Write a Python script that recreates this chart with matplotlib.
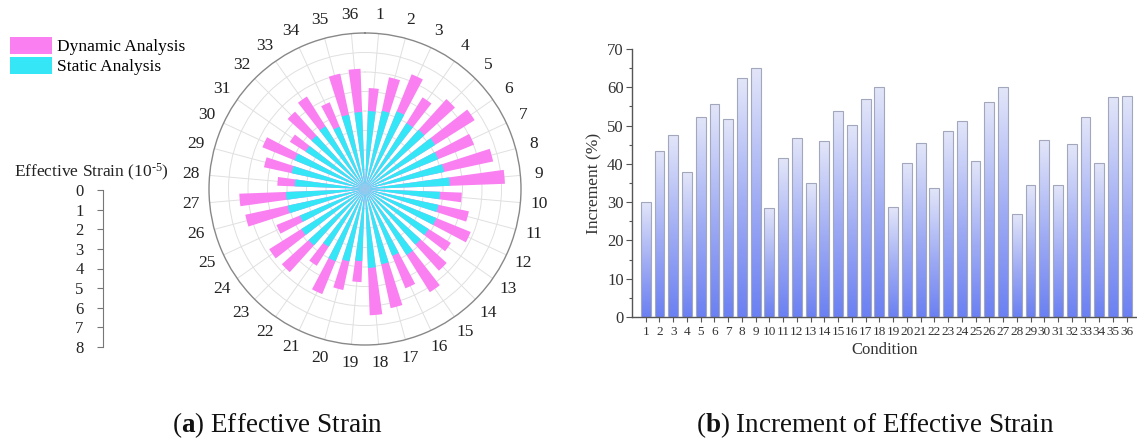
import numpy as np
import matplotlib.pyplot as plt
from matplotlib.colors import LinearSegmentedColormap
from matplotlib.patches import Patch

plt.rcParams['font.family'] = ['Liberation Serif', 'DejaVu Serif']
plt.rcParams['mathtext.fontset'] = 'custom'
plt.rcParams['mathtext.rm'] = 'Liberation Serif'
plt.rcParams['mathtext.bf'] = 'Liberation Serif:bold'
plt.rcParams['mathtext.default'] = 'regular'

# conditions 1..36
conditions = list(range(1, 37))

# effective strain (10^-5)
static_strain = [4.0, 4.1, 4.3, 4.0, 4.1, 4.25, 4.05, 4.15, 4.35, 3.85, 3.85, 3.95,
                 3.85, 3.85, 4.0, 3.7, 3.95, 4.05, 3.7, 3.8, 4.0, 3.5, 3.9, 3.85,
                 3.6, 4.05, 4.05, 3.6, 3.85, 3.9, 3.6, 3.7, 3.8, 3.45, 3.9, 3.95]
dynamic_strain = [5.18, 5.86, 6.35, 5.55, 6.22, 6.64, 6.04, 6.72, 7.18, 4.97, 5.45, 5.85,
                  5.2, 5.65, 6.25, 5.5, 6.25, 6.48, 4.78, 5.3, 5.82, 4.65, 5.75, 5.8,
                  4.9, 6.28, 6.45, 4.5, 5.3, 5.68, 4.55, 5.35, 5.6, 4.8, 6.05, 6.17]

# increment of effective strain (%)
increment = [30.1, 43.4, 47.6, 37.8, 52.3, 55.7, 51.7, 62.3, 65.1, 28.6, 41.5, 46.8,
             35.0, 45.9, 53.7, 50.2, 57.0, 60.0, 28.7, 40.2, 45.4, 33.6, 48.5, 51.3,
             40.8, 56.1, 60.0, 26.8, 34.4, 46.2, 34.4, 45.1, 52.2, 40.3, 57.4, 57.8]

W, H = 1137, 443
fig = plt.figure(figsize=(W / 100, H / 100), dpi=100)

magenta = '#fa80f2'
cyan = '#35e7f6'

# ---- (a) polar chart
cx, cy, R = 365, 189, 156
axp = fig.add_axes([(cx - R) / W, (H - cy - R) / H, 2 * R / W, 2 * R / H], projection='polar')
axp.set_theta_zero_location('N')
axp.set_theta_direction(-1)
theta = np.deg2rad((np.array(conditions) - 0.5) * 10)
axp.bar(theta, dynamic_strain, width=0.1, color=magenta, zorder=2)
axp.bar(theta, static_strain, width=0.1, color=cyan, zorder=3)
axp.set_ylim(0, 8)
axp.set_yticks(range(1, 8))
axp.set_yticklabels([])
axp.set_xticks(theta)
axp.set_xticklabels([str(c) for c in conditions], fontsize=12.5, color='#222222')
axp.tick_params(axis='x', pad=3)
axp.grid(color='#e0e0e0', linewidth=0.7)
axp.spines['polar'].set_color('#888888')
axp.spines['polar'].set_linewidth(1.0)

# radial scale drawn separately on the left
axr = fig.add_axes([103 / W, (H - 347) / H, 0.0005, (347 - 190) / H])
axr.set_ylim(8, 0)
axr.set_yticks(range(0, 9))
axr.set_xticks([])
for s in ['top', 'right', 'bottom']:
    axr.spines[s].set_visible(False)
axr.spines['left'].set_color('#777777')
axr.spines['left'].set_linewidth(0.8)
axr.tick_params(axis='y', length=4, width=0.8, color='#777777', pad=10, labelsize=12,
                labelcolor='#222222')
fig.text(91 / W, 1 - 172 / H, r'Effective Strain (10$^{\text{-}5}$)', ha='center', va='center',
         fontsize=12.5, color='#222222')

handles = [Patch(facecolor=magenta, label='Dynamic Analysis'),
           Patch(facecolor=cyan, label='Static Analysis')]
fig.legend(handles=handles, loc='upper left', bbox_to_anchor=(10 / W, 1 - 37 / H), frameon=False,
           fontsize=12.5, handlelength=2.4, handleheight=1.1, handletextpad=0.3,
           labelspacing=0.1, borderaxespad=0, borderpad=0)

# ---- (b) increment bar chart
axb = fig.add_axes([632 / W, (H - 317) / H, (W - 632) / W, (317 - 49) / H])
cmap = LinearSegmentedColormap.from_list('grad', [(0, '#6b80f2'), (0.45, '#9eabf4'), (1, '#e3e6f9')])
grad = np.linspace(0, 1, 256).reshape(-1, 1)
bars = axb.bar(conditions, increment, width=0.72, facecolor='none', edgecolor='#a3a7bb',
               linewidth=0.8, zorder=3)
for b in bars:
    x0, w, h = b.get_x(), b.get_width(), b.get_height()
    im = axb.imshow(grad, extent=[x0, x0 + w, 0, h], origin='lower', aspect='auto',
                    cmap=cmap, zorder=2)
    im.set_clip_path(b)
axb.set_xlim(0, 36.75)
axb.set_ylim(0, 70)
axb.set_xticks(conditions)
axb.set_yticks(range(0, 71, 10))
axb.set_yticks(range(5, 70, 10), minor=True)
for s in ['top', 'right']:
    axb.spines[s].set_visible(False)
for s in ['left', 'bottom']:
    axb.spines[s].set_color('#555555')
    axb.spines[s].set_linewidth(1.0)
axb.tick_params(axis='y', which='major', length=4, width=0.8, color='#555555', labelsize=12,
                labelcolor='#333333', pad=2)
axb.tick_params(axis='y', which='minor', length=2.5, width=0.8, color='#555555')
axb.tick_params(axis='x', length=3.5, width=0.8, color='#555555', labelsize=9.5,
                labelcolor='#333333', pad=3)
axb.set_ylabel('Increment (%)', fontsize=12.5, color='#333333', labelpad=3)
axb.set_xlabel('Condition', fontsize=12, color='#333333', labelpad=3)

# captions
fig.text(277 / W, 1 - 425 / H, r'($\mathbf{a}$) Effective Strain', ha='center', va='center',
         fontsize=19.5, color='#111111')
fig.text(875 / W, 1 - 425 / H, r'($\mathbf{b}$) Increment of Effective Strain', ha='center',
         va='center', fontsize=19.5, color='#111111')

fig.savefig('out.png', dpi=100)
